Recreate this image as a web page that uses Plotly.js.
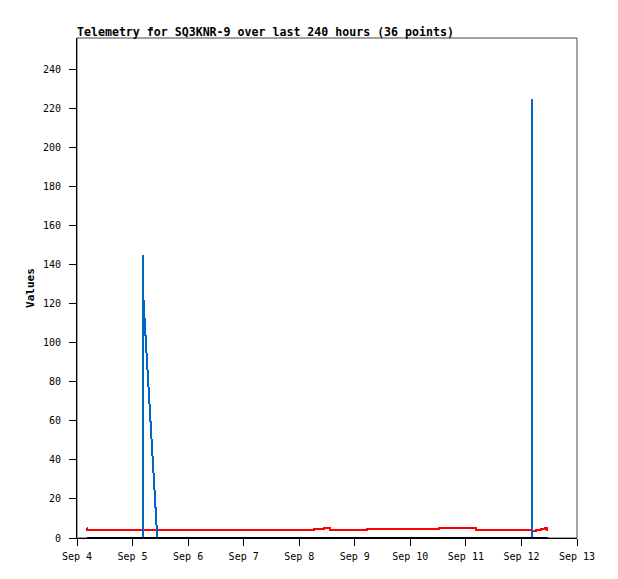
<!DOCTYPE html>
<html>
<head>
<meta charset="utf-8">
<script src="https://cdn.plot.ly/plotly-3.0.1.min.js"></script>
<style>
html, body { margin: 0; padding: 0; background: #fff; }
#chart { width: 618px; height: 579px; }
.js-plotly-plot .scatterlayer .js-line { shape-rendering: crispEdges; }
</style>
</head>
<body>
<div id="chart"></div>
<script>
// Channel 1 (red)
const redTimes = ['2024-09-04 04:10', '2024-09-04 04:15', '2024-09-08 06:30', '2024-09-08 10:50',
  '2024-09-08 13:30', '2024-09-09 05:04', '2024-09-10 12:30', '2024-09-11 04:22',
  '2024-09-12 04:46', '2024-09-12 06:30', '2024-09-12 08:26', '2024-09-12 10:10',
  '2024-09-12 11:01', '2024-09-12 11:35'];
const redValues = [5.0, 4.0, 4.7, 5.2, 4.0, 4.5, 5.0, 4.0, 3.8, 4.2, 4.7, 5.1, 4.2, 4.2];

// Channel 2 (blue)
const blueTimes = ['2024-09-04 04:10', '2024-09-05 04:22', '2024-09-05 04:23', '2024-09-05 04:35',
  '2024-09-05 04:45', '2024-09-05 10:41', '2024-09-12 04:23', '2024-09-12 04:24',
  '2024-09-12 04:26', '2024-09-12 11:35'];
const blueValues = [0, 0, 145, 130, 121, 0, 0, 225, 0, 0];

// Channel 3 (black)
const blackTimes = ['2024-09-04 04:10', '2024-09-12 11:35'];
const blackValues = [0, 0];

const yTicks = [0, 20, 40, 60, 80, 100, 120, 140, 160, 180, 200, 220, 240];
const titleText = 'Telemetry for SQ3KNR-9 over last 240 hours (36 points)';
const yTitle = 'Values';

const mono = 'DejaVu Sans Mono, monospace';

const traces = [
  { x: redTimes, y: redValues, type: 'scatter', mode: 'lines',
    line: { color: '#ff0000', width: 2, shape: 'hv' }, hoverinfo: 'skip' },
  { x: blueTimes, y: blueValues, type: 'scatter', mode: 'lines',
    line: { color: '#0066cc', width: 2 }, hoverinfo: 'skip' },
  { x: blackTimes, y: blackValues, type: 'scatter', mode: 'lines',
    line: { color: '#000000', width: 2 }, hoverinfo: 'skip' }
];

const layout = {
  width: 618, height: 579,
  margin: { l: 77, r: 41, t: 38, b: 41, pad: 0 },
  paper_bgcolor: '#ffffff', plot_bgcolor: '#ffffff',
  showlegend: false,
  font: { family: mono, size: 10, color: '#000' },
  title: {
    text: titleText,
    font: { family: mono, size: 11.6, color: '#000', weight: 'bold' },
    x: 0, xref: 'paper', xanchor: 'left',
    y: 1 - 32 / 579, yref: 'container', yanchor: 'middle'
  },
  xaxis: {
    type: 'date',
    range: ['2024-09-04 00:00', '2024-09-13 00:00'],
    dtick: 86400000, tick0: '2024-09-04',
    tickformat: '%b %-d',
    showgrid: false, zeroline: false,
    showline: true, linecolor: '#000', linewidth: 1,
    ticks: 'outside', ticklen: 7, tickwidth: 1, tickcolor: '#000',
    ticklabelstandoff: 2,
    tickfont: { family: mono, size: 10, color: '#000' },
    layer: 'above traces'
  },
  yaxis: {
    range: [0, 256],
    tickvals: yTicks,
    ticktext: yTicks.map(String),
    showgrid: false, zeroline: false,
    showline: true, linecolor: '#000', linewidth: 1,
    ticks: 'outside', ticklen: 7, tickwidth: 1, tickcolor: '#000',
    ticklabelstandoff: 6,
    tickfont: { family: mono, size: 10, color: '#000' },
    title: { text: yTitle, font: { family: mono, size: 11, color: '#000', weight: 'bold' }, standoff: 6 },
    layer: 'above traces'
  },
  shapes: [
    { type: 'rect', xref: 'paper', yref: 'paper', x0: 0, x1: 1, y0: 0, y1: 1,
      line: { color: '#444444', width: 1 }, fillcolor: 'rgba(0,0,0,0)', layer: 'below' }
  ]
};

Plotly.newPlot('chart', traces, layout, { displayModeBar: false, staticPlot: true });
</script>
</body>
</html>
